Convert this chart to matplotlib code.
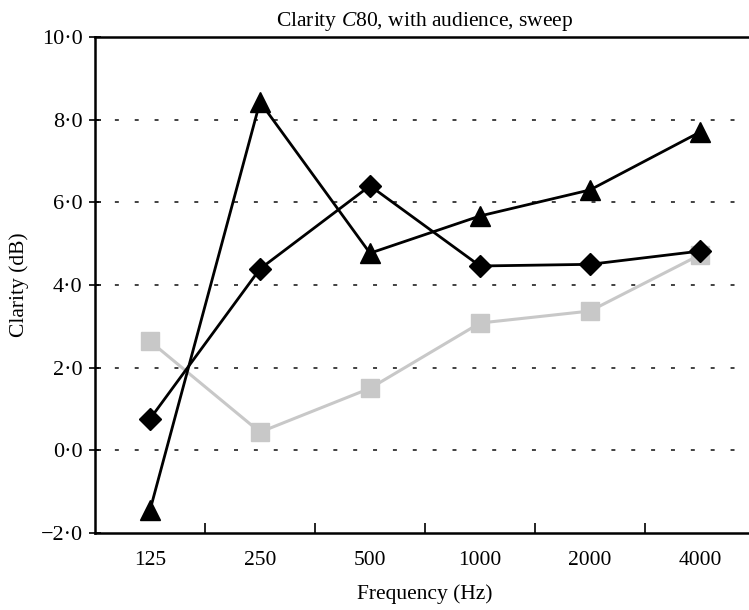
import matplotlib
matplotlib.use('Agg')
import matplotlib.pyplot as plt
import numpy as np

plt.rcParams['font.family'] = ['Liberation Serif', 'DejaVu Serif']
plt.rcParams['mathtext.fontset'] = 'custom'
plt.rcParams['mathtext.rm'] = 'Liberation Serif'
plt.rcParams['mathtext.it'] = 'Liberation Serif:italic'

freqs = ['125', '250', '500', '1000', '2000', '4000']
triangle = [-1.45, 8.43, 4.77, 5.67, 6.3, 7.7]
diamond = [0.76, 4.39, 6.4, 4.46, 4.5, 4.82]
square = [2.64, 0.44, 1.5, 3.08, 3.37, 4.73]
yticks = [-2, 0, 2, 4, 6, 8, 10]

fig = plt.figure(figsize=(7.49, 6.10), dpi=100)
ax = fig.add_axes([95/749, 1 - 533/610, 660/749, (533 - 37)/610])

x = np.arange(len(freqs))
ax.plot(x, square, color='#c8c8c8', marker='s', markersize=13, lw=2.2, zorder=3)
ax.plot(x, triangle, color='black', marker='^', markersize=15, lw=2.0, zorder=4)
ax.plot(x, diamond, color='black', marker='D', markersize=11, lw=2.0, zorder=5)

for y in [0, 2, 4, 6, 8]:
    ax.axhline(y, color='#333333', lw=1.3, linestyle=(0, (2.2, 8.8)), zorder=1)

ax.set_xlim(-0.5, len(freqs) - 0.5)
ax.set_ylim(-2, 10)
ax.set_yticks(yticks)
ax.set_yticklabels([('\u2212' if v < 0 else '') + '%d\u00b70' % abs(v) for v in yticks], fontsize=16)
ax.set_xticks(x + 0.5, minor=False)
ax.set_xticklabels([])
ax.set_xticks(x, minor=True)
ax.set_xticklabels(freqs, minor=True, fontsize=15.5)
ax.tick_params(axis='x', which='major', direction='in', length=7, width=1.2)
ax.tick_params(axis='x', which='minor', length=0, pad=13)
ax.tick_params(axis='y', direction='inout', length=8, width=1.2, pad=5)

for s in ax.spines.values():
    s.set_linewidth(1.8)

ax.set_xlabel('Frequency (Hz)', fontsize=15.5, labelpad=10)
ax.set_ylabel('Clarity (dB)', fontsize=15.5, labelpad=8)
ax.set_title('Clarity $\\mathit{C}$80, with audience, sweep', fontsize=15.5, pad=8)

fig.savefig('out.png', dpi=100)
